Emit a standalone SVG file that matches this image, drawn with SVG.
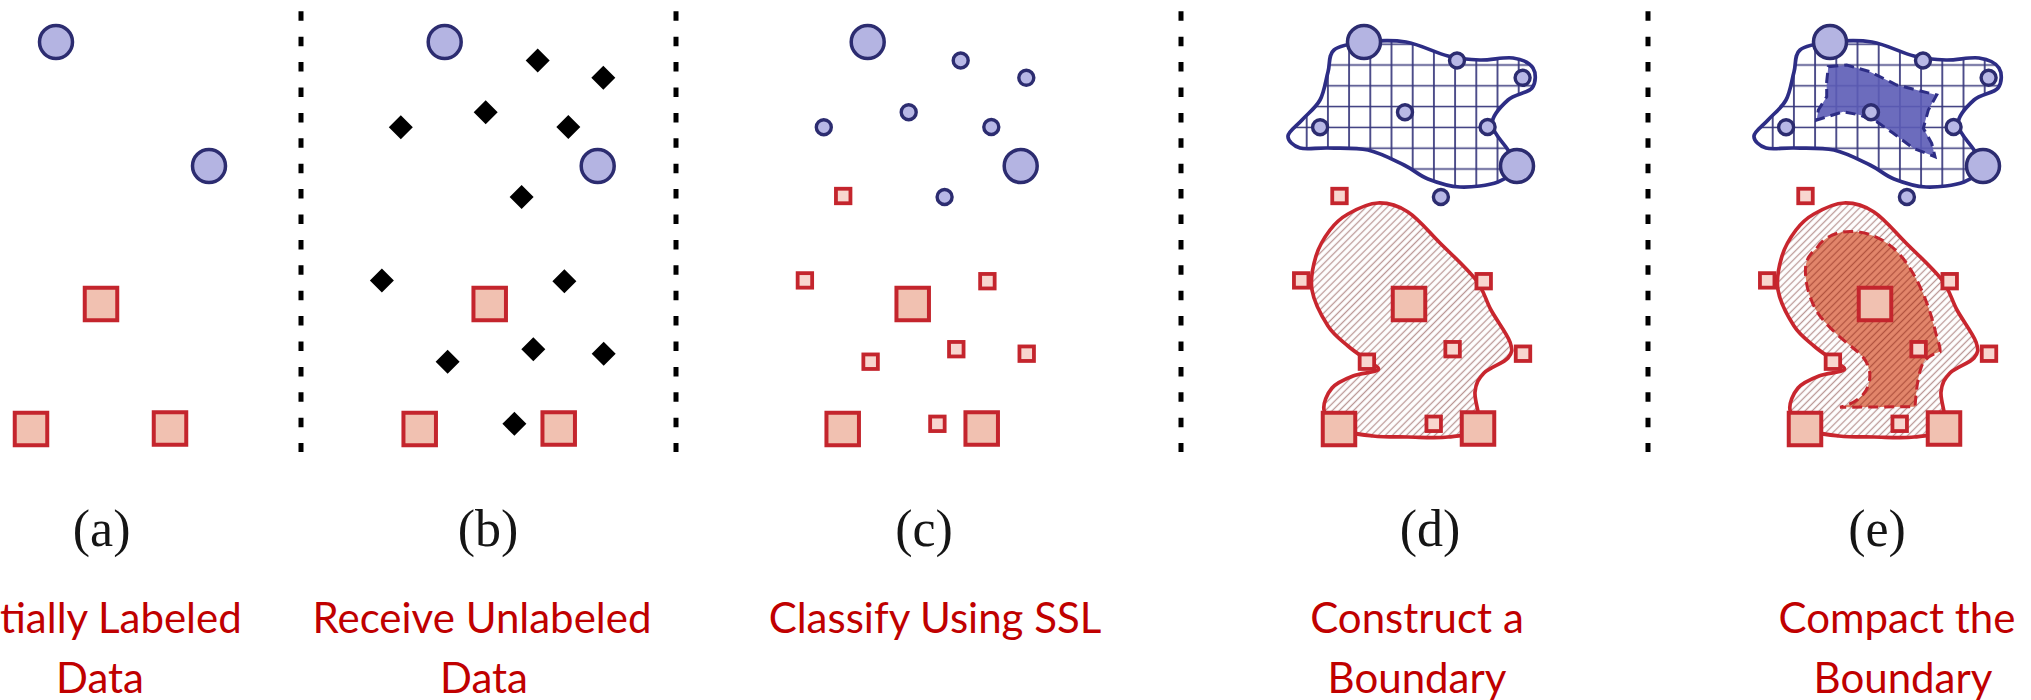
<svg xmlns="http://www.w3.org/2000/svg" width="2031" height="700" viewBox="0 0 2031 700">
  <style>
    .sep { stroke:#000; stroke-width:5; stroke-dasharray:9.5 15.9; fill:none }
    .tag { font-family:"Liberation Serif", "Times New Roman", serif; font-size:52px; fill:#151515; text-anchor:middle }
    .cap { font-family:Lato, "Open Sans", sans-serif; font-size:42px; fill:#c00000; text-anchor:middle }
    .blueEdge { fill:none; stroke:#2d2d85; stroke-width:3.7; stroke-linejoin:round }
    .redEdge { fill:none; stroke:#c8262e; stroke-width:3.7; stroke-linejoin:round }
    .blueCore { fill:#5c5cb6; fill-opacity:0.9; stroke:#2d2d85; stroke-width:3; stroke-dasharray:10 6 }
    .redCoreLine { fill:none; stroke:#c4252d; stroke-width:3; stroke-dasharray:10 6 }
  </style>
  <defs>
    <!-- point markers -->
    <circle id="bigCircle" r="16.5" fill="#b4b4e2" stroke="#2c2c70" stroke-width="3.5"/>
    <circle id="smallCircle" r="7.5" fill="#b8b8e6" stroke="#2c2c70" stroke-width="3.4"/>
    <rect id="bigSquare" x="-16.25" y="-16.25" width="32.5" height="32.5" fill="#f1c1b1" stroke="#c4252d" stroke-width="4"/>
    <rect id="smallSquare" x="-7.25" y="-7.25" width="14.5" height="14.5" fill="#f8d6cf" stroke="#c4252d" stroke-width="3.8"/>
    <path id="diamond" d="M0,-12 L12,0 L0,12 L-12,0 Z" fill="#000"/>

    <!-- fills -->
    <pattern id="grid" patternUnits="userSpaceOnUse" x="-11.9" y="-7.8" width="21.2" height="20.8">
      <path d="M10.6,0 V20.8 M0,10.4 H21.2" stroke="#35357a" stroke-width="1.7" fill="none"/>
    </pattern>
    <pattern id="hatch" patternUnits="userSpaceOnUse" width="5" height="10" patternTransform="rotate(45)">
      <line x1="2.5" y1="0" x2="2.5" y2="10" stroke="#bb9896" stroke-width="1.3"/>
    </pattern>
    <pattern id="hatchDark" patternUnits="userSpaceOnUse" width="5" height="10" patternTransform="rotate(45)">
      <line x1="2.5" y1="0" x2="2.5" y2="10" stroke="#b0523f" stroke-width="1.3"/>
    </pattern>

    <!-- class regions -->
    <path id="blueRegion" d="M56,42 C68,40.67 84,39.67 98,42 C112,44.33 127.67,53 140,56 C152.33,59 161.17,59.67 172,60 C182.83,60.33 196.17,56.67 205,58 C213.83,59.33 221.83,63 225,68 C228.17,73 228.17,82.67 224,88 C219.83,93.33 206.67,94 200,100 C193.33,106 184,115.67 184,124 C184,132.33 195.83,143 200,150 C204.17,157 210.67,160.67 209,166 C207.33,171.33 199.5,178.5 190,182 C180.5,185.5 163.67,187.5 152,187 C140.33,186.5 129.33,182.67 120,179 C110.67,175.33 106,169.83 96,165 C86,160.17 72.67,152.83 60,150 C47.33,147.17 31.33,148.33 20,148 C8.67,147.67 -1.33,150 -8,148 C-14.67,146 -20.33,140.67 -20,136 C-19.67,131.33 -11.33,126 -6,120 C-0.67,114 7.67,108 12,100 C16.33,92 17.67,80.33 20,72 C22.33,63.67 20,55 26,50 C32,45 44,43.33 56,42 Z"/>
    <path id="redRegion" d="M40,214 C48,209.5 60,203.33 70,203 C80,202.67 89.67,205.33 100,212 C110.33,218.67 120.67,231.67 132,243 C143.33,254.33 159.5,268.83 168,280 C176.5,291.17 177.33,299.67 183,310 C188.67,320.33 199.17,334 202,342 C204.83,350 204.33,352.83 200,358 C195.67,363.17 181.5,367.33 176,373 C170.5,378.67 168,382.83 167,392 C166,401.17 174.5,420.5 170,428 C165.5,435.5 151.67,435.5 140,437 C128.33,438.5 112.5,437.17 100,437 C87.5,436.83 76.5,437.33 65,436 C53.5,434.67 39.17,433.33 31,429 C22.83,424.67 17.17,416.83 16,410 C14.83,403.17 19.17,393.67 24,388 C28.83,382.33 37.33,379 45,376 C52.67,373 67.5,372.5 70,370 C72.5,367.5 65,365 60,361 C55,357 46.67,351.83 40,346 C33.33,340.17 26,335.33 20,326 C14,316.67 6,301.67 4,290 C2,278.33 5,266 8,256 C11,246 16.67,237 22,230 C27.33,223 32,218.5 40,214 Z"/>
    <path id="blueCoreShape" d="M54.3,66.7 L72.7,65 L96,71.7 L122.7,85 L142.7,90 L162.7,95 L154.3,110 L149.3,128.3 L157.7,143.3 L161,156.7 L139.3,148.3 L119.3,133.3 L102.7,121.7 L86,115 L69.3,111.7 L42.7,120 L44.3,110 L52.7,96.7 L52.7,81.7 Z"/>
    <path id="redCoreShape" d="M42.7,248.3 C50,236 65,231 78,231.5 C98,232 118,242 132.7,263.3 C145,281 155,305 161,330 C164,342 167,348 166,351.7 C158,354 150,358 147,368 C143,380 142,395 141,406.7 L66,407.3 C80,404 92,396 95,383 C98,370 93,360 84,352 C72,342 52,327 42,310 C33,294 30,275 32,264 C34,256 38,252 42.7,248.3 Z"/>

    <!-- labelled points shared by every panel -->
    <g id="labelled">
      <use href="#bigCircle" x="56" y="42"/>
      <use href="#bigCircle" x="209" y="166"/>
      <use href="#bigSquare" x="101" y="304"/>
      <use href="#bigSquare" x="31" y="429"/>
      <use href="#bigSquare" x="170" y="428.5"/>
    </g>
    <!-- points after classification -->
    <g id="classified">
      <use href="#smallCircle" x="149" y="60.5"/>
      <use href="#smallCircle" x="214.6" y="77.8"/>
      <use href="#smallCircle" x="97" y="112.2"/>
      <use href="#smallCircle" x="12.1" y="127.2"/>
      <use href="#smallCircle" x="179.6" y="127"/>
      <use href="#smallCircle" x="132.9" y="197"/>
      <use href="#smallSquare" x="31.5" y="196"/>
      <use href="#smallSquare" x="-6.8" y="280.4"/>
      <use href="#smallSquare" x="175.7" y="281.2"/>
      <use href="#smallSquare" x="144.6" y="349.2"/>
      <use href="#smallSquare" x="215" y="353.7"/>
      <use href="#smallSquare" x="58.9" y="361.7"/>
      <use href="#smallSquare" x="125.7" y="423.8"/>
    </g>
  </defs>

  <rect width="2031" height="700" fill="#fff"/>

  <!-- dotted dividers -->
  <g id="dividers">
    <line class="sep" x1="301" y1="11.3" x2="301" y2="452"/>
    <line class="sep" x1="676" y1="11.3" x2="676" y2="452"/>
    <line class="sep" x1="1181" y1="11.3" x2="1181" y2="452"/>
    <line class="sep" x1="1648" y1="11.3" x2="1648" y2="452"/>
  </g>

  <!-- (a) labelled data only -->
  <g id="panel-a">
    <use href="#labelled"/>
  </g>

  <!-- (b) unlabelled points arrive -->
  <g id="panel-b" transform="translate(388.7,0)">
    <use href="#labelled"/>
    <use href="#diamond" x="149" y="60.5"/>
    <use href="#diamond" x="214.6" y="77.8"/>
    <use href="#diamond" x="97" y="112.2"/>
    <use href="#diamond" x="12.1" y="127.2"/>
    <use href="#diamond" x="179.6" y="127"/>
    <use href="#diamond" x="132.9" y="197"/>
    <use href="#diamond" x="-6.8" y="280.4"/>
    <use href="#diamond" x="175.7" y="281.2"/>
    <use href="#diamond" x="144.6" y="349.2"/>
    <use href="#diamond" x="215" y="353.7"/>
    <use href="#diamond" x="58.9" y="361.7"/>
    <use href="#diamond" x="125.7" y="423.8"/>
  </g>

  <!-- (c) classified -->
  <g id="panel-c" transform="translate(811.7,0)">
    <use href="#labelled"/>
    <use href="#classified"/>
  </g>

  <!-- (d) boundaries -->
  <g id="panel-d" transform="translate(1308,0)">
    <use href="#blueRegion" fill="url(#grid)"/>
    <use href="#blueRegion" class="blueEdge"/>
    <use href="#redRegion" fill="url(#hatch)"/>
    <use href="#redRegion" class="redEdge"/>
    <use href="#labelled"/>
    <use href="#classified"/>
  </g>

  <!-- (e) compacted boundaries -->
  <g id="panel-e" transform="translate(1774,0)">
    <use href="#blueRegion" fill="url(#grid)"/>
    <use href="#blueCoreShape" class="blueCore"/>
    <use href="#blueRegion" class="blueEdge"/>
    <use href="#redRegion" fill="url(#hatch)"/>
    <use href="#redCoreShape" fill="#e3866b"/>
    <use href="#redCoreShape" fill="url(#hatchDark)"/>
    <use href="#redCoreShape" class="redCoreLine"/>
    <use href="#redRegion" class="redEdge"/>
    <use href="#labelled"/>
    <use href="#classified"/>
  </g>

  <!-- captions -->
  <g id="captions">
    <text class="tag" x="101.6" y="546">(a)</text>
    <text class="tag" x="488" y="546">(b)</text>
    <text class="tag" x="924" y="546">(c)</text>
    <text class="tag" x="1430" y="546">(d)</text>
    <text class="tag" x="1877" y="546">(e)</text>

    <text class="cap" x="0" y="633" style="text-anchor:start">tially Labeled</text>
    <text class="cap" x="100" y="693">Data</text>
    <text class="cap" x="482" y="633">Receive Unlabeled</text>
    <text class="cap" x="484" y="693">Data</text>
    <text class="cap" x="935" y="633">Classify Using SSL</text>
    <text class="cap" x="1417" y="633">Construct a</text>
    <text class="cap" x="1417" y="693">Boundary</text>
    <text class="cap" x="1897" y="633">Compact the</text>
    <text class="cap" x="1903" y="693">Boundary</text>
  </g>
</svg>
